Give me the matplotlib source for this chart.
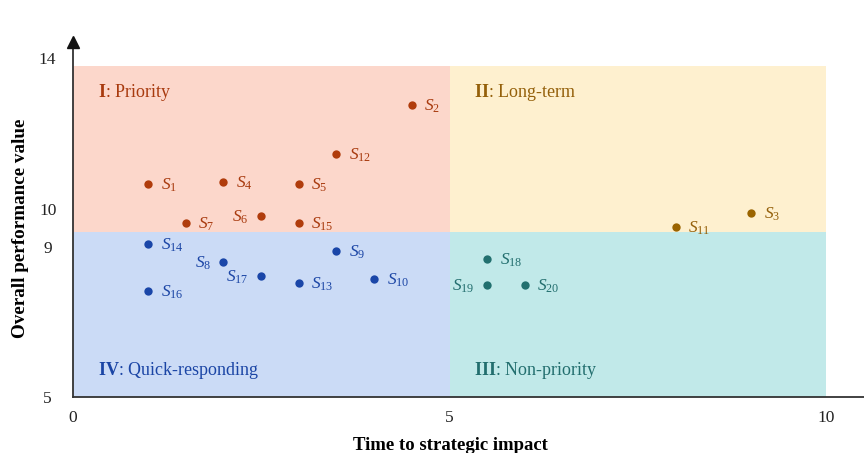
import numpy as np
import matplotlib
matplotlib.use("Agg")
import matplotlib.pyplot as plt
from matplotlib.patches import Rectangle

plt.rcParams['font.family'] = ['Liberation Serif', 'DejaVu Serif']
plt.rcParams['mathtext.fontset'] = 'custom'
plt.rcParams['mathtext.rm'] = 'Liberation Serif'
plt.rcParams['mathtext.it'] = 'Liberation Serif:italic'
plt.rcParams['mathtext.bf'] = 'Liberation Serif:bold'

# strategies: time to strategic impact vs overall performance value
strategy_ids = list(range(1, 21))
time_impact = [1, 4.5, 9, 2, 3, 2.5, 1.5, 2, 3.5, 4, 8, 3.5, 3, 1, 3, 1, 2.5, 5.5, 5.5, 6]
perf_value = [10.67, 12.77, 9.89, 10.71, 10.65, 9.82, 9.62, 8.58, 8.88, 8.15,
              9.53, 11.47, 8.04, 9.08, 9.63, 7.83, 8.21, 8.68, 7.97, 7.97]
left_labels = [6, 8, 17, 19]

# quadrant boundaries
x_lo, x_mid, x_hi = 0, 5, 10
y_lo, y_mid, y_hi = 5, 9.4, 13.8

quad_names = ['I', 'II', 'III', 'IV']
quad_titles = ['Priority', 'Long-term', 'Non-priority', 'Quick-responding']
quad_fill = ['#fcd7cb', '#fef0cf', '#c1e9e9', '#cbdbf6']
quad_text = ['#a83a0e', '#94600a', '#226e6e', '#1b45a5']
quad_dot = ['#b03c0c', '#9a6400', '#22706f', '#1a46a8']

x_ticks = [0, 5, 10]
y_ticks = [5, 9, 10, 14]

fig = plt.figure(figsize=(8.64, 4.53), dpi=100)
ax = fig.add_axes([0.0841, 0.123, 0.916, 0.784])
ax.set_xlim(0, 10.5)
ax.set_ylim(5, 14.43)

# quadrant backgrounds: I top-left, II top-right, III bottom-right, IV bottom-left
quad_boxes = [(x_lo, y_mid, x_mid - x_lo, y_hi - y_mid),
              (x_mid, y_mid, x_hi - x_mid, y_hi - y_mid),
              (x_mid, y_lo, x_hi - x_mid, y_mid - y_lo),
              (x_lo, y_lo, x_mid - x_lo, y_mid - y_lo)]
for (bx, by, bw, bh), fc in zip(quad_boxes, quad_fill):
    ax.add_patch(Rectangle((bx, by), bw, bh, facecolor=fc, edgecolor='none', zorder=0))

quad_label_pos = [(0.34, 13.09), (5.33, 13.09), (5.33, 5.72), (0.34, 5.72)]
for (lx, ly), nm, tt, c in zip(quad_label_pos, quad_names, quad_titles, quad_text):
    ax.text(lx, ly, r'$\mathbf{%s}$: %s' % (nm, tt), color=c, fontsize=13,
            ha='left', va='center', zorder=3)

def quadrant(x, y):
    if y >= y_mid:
        return 0 if x < x_mid else 1
    return 3 if x < x_mid else 2

for sid, x, y in zip(strategy_ids, time_impact, perf_value):
    q = quadrant(x, y)
    ax.scatter([x], [y], s=36, color=quad_dot[q], zorder=4, linewidths=0)
    if sid in left_labels:
        off, ha = (-9, 'right'), 'right'
    else:
        off, ha = (9, 'left'), 'left'
    ax.annotate(r'$S_{%d}$' % sid, (x, y), xytext=(off[0], -4), textcoords='offset points',
                ha=ha, va='baseline', fontsize=12.5, color=quad_text[q], zorder=4)

# axes styling
for s in ['top', 'right']:
    ax.spines[s].set_visible(False)
for s in ['left', 'bottom']:
    ax.spines[s].set_color('#333333')
    ax.spines[s].set_linewidth(1.3)
ax.plot(0, 1, marker='^', color='#111111', markersize=8, transform=ax.transAxes,
        clip_on=False, zorder=5)

ax.set_xticks(x_ticks)
ax.set_yticks(y_ticks)
ax.tick_params(axis='both', length=0, labelsize=12.5, colors='#222222')
ax.tick_params(axis='x', pad=9)
ax.tick_params(axis='y', pad=18)
for lab in ax.get_yticklabels():
    lab.set_horizontalalignment('center')

ax.set_xlabel('Time to strategic impact', fontsize=13.5, fontweight='bold')
ax.set_ylabel('Overall performance value', fontsize=13.8, fontweight='bold')
ax.xaxis.set_label_coords(0.4768, -0.112)
ax.yaxis.set_label_coords(-0.055, 0.4765)

fig.savefig('out.png', dpi=100)
